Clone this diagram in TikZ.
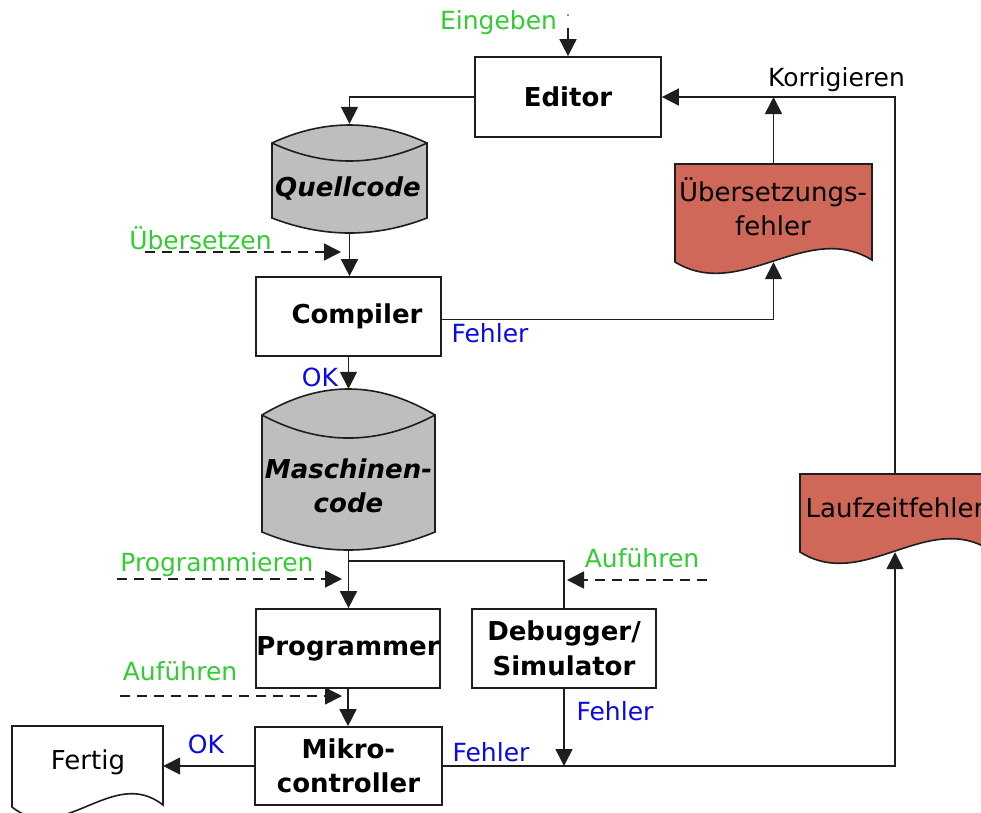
\documentclass[tikz,border=0pt]{standalone}
\usepackage{fontspec}
\setmainfont{DejaVu Sans}
\usetikzlibrary{arrows.meta,calc}

\definecolor{lblgreen}{RGB}{51,204,51}
\definecolor{lblblue}{RGB}{10,10,230}
\definecolor{errred}{RGB}{208,104,90}
\definecolor{storegray}{RGB}{190,190,190}
\definecolor{edge}{RGB}{30,30,30}

\tikzset{
  box/.style={draw=edge, line width=1.7pt, fill=white, inner sep=0pt,
    font=\fontsize{26}{34.5}\selectfont\bfseries, align=center},
  shapeframe/.style={inner sep=0pt, draw=none},
  storetext/.style={inner sep=0pt, font=\fontsize{26}{34.5}\selectfont\bfseries\itshape, align=center},
  doctext/.style={inner sep=0pt, font=\fontsize{26}{34.5}\selectfont, align=center},
  actlabel/.style={inner sep=0pt, font=\fontsize{25}{30}\selectfont, text=lblgreen},
  reslabel/.style={inner sep=0pt, font=\fontsize{25}{30}\selectfont, text=lblblue},
  notelabel/.style={inner sep=0pt, font=\fontsize{25}{30}\selectfont, text=black},
  plain/.style={draw=edge, line width=1.6pt},
  flow/.style={plain, -{Triangle[length=17pt,width=17pt]}},
  cue/.style={flow, dash pattern=on 10pt off 7pt},
  outline/.style={draw=edge, line width=1.6pt},
}

\begin{document}
\begin{tikzpicture}[x=1pt,y=-1pt]
\useasboundingbox (0,0) rectangle (981,812);
\fill[white] (0,0) rectangle (981,812);
\clip (0,0) rectangle (981,812);

% --- process boxes ---
\node[box, minimum width=186pt, minimum height=80pt] (ed) at (568,97) {Editor};
\node[box, minimum width=185pt, minimum height=79pt] (cp) at (348.5,316.5) {\hspace*{17pt}Compiler};
\node[box, minimum width=184pt, minimum height=79pt] (pg) at (348,648.5) {Programmer};
\node[box, minimum width=184pt, minimum height=79pt] (db) at (564,648.5) {Debugger/\\Simulator};
\node[box, minimum width=187pt, minimum height=78pt] (mk) at (348.5,766) {Mikro-\\controller};

% --- stored data (cylinders) ---
\path[outline, fill=storegray] (272,143) .. controls (323.7,119) and (375.3,119) .. (427,143)
  -- (427,218) .. controls (375.3,238) and (323.7,238) .. (272,218) -- cycle;
\draw[outline] (272,143) .. controls (323.7,167) and (375.3,167) .. (427,143);
\node[shapeframe, minimum width=155pt, minimum height=109pt] (qc) at (349.5,178.5) {};
\node[storetext] (qct) at (348,189) {Quellcode};

\path[outline, fill=storegray] (262,415) .. controls (319.7,380.3) and (377.3,380.3) .. (435,415)
  -- (435,532) .. controls (377.3,556) and (319.7,556) .. (262,532) -- cycle;
\draw[outline] (262,415) .. controls (319.7,445.7) and (377.3,445.7) .. (435,415);
\node[shapeframe, minimum width=173pt, minimum height=161pt] (mc) at (348.5,469.5) {};
\node[storetext] (mct) at (348.5,486) {Maschinen-\\code};

% --- documents ---
\path[outline, fill=errred] (675,164) -- (872,164) -- (872,260)
  .. controls (806.3,220) and (740.7,302) .. (675,262) -- cycle;
\node[shapeframe, minimum width=197pt, minimum height=98pt] (uf) at (773.5,213) {};
\node[doctext] (uft) at (773,207) {Übersetzungs-\\fehler};

\path[outline, fill=errred] (800,474) -- (990,474) -- (990,550)
  .. controls (926.7,510) and (863.3,592) .. (800,552) -- cycle;
\node[shapeframe, minimum width=190pt, minimum height=78pt] (lf) at (895,513) {};
\node[doctext] (lft) at (895,508) {Laufzeitfehler};

\path[outline, fill=white] (12,726) -- (163,726) -- (163,805)
  .. controls (112.7,765) and (62.3,847) .. (12,807) -- cycle;
\node[shapeframe, minimum width=151pt, minimum height=81pt] (ft) at (87.5,766.5) {};
\node[doctext] (ftt) at (88,762) {Fertig};

% --- main flow ---
\coordinate (ein) at (568,28);
\fill[edge] (568,15) circle (0.9);
\draw[flow] (ein) -- (ed.north);
\draw[flow] (ed.west) -| (qc.north);
\draw[flow] (qc.south) -- (qc.south |- cp.north);
\draw[flow] (cp.south) -- (cp.south |- mc.north);
\draw[flow] (mc.south) -- (mc.south |- pg.north);
\coordinate (br) at (348.5,561);
\draw[plain] (br) -| (db.north);
\draw[flow] (pg.south) -- (pg.south |- mk.north);
\draw[flow] (mk.west) -- (mk.west -| ft.east);
\draw[flow] (mk.east) -| (lf.south);
\draw[flow] (db.south) -- (db.south |- mk.east);
\draw[flow] ([yshift=-3pt]cp.east) -| (uf.south);
\draw[flow] (lf.north) |- (ed.east);
\draw[flow] (uf.north) -- (uf.north |- ed.east);

% --- dashed action cues ---
\coordinate (c1s) at (145,252); \coordinate (c1e) at (341,252);
\coordinate (c2s) at (117,579); \coordinate (c2e) at (342,579);
\coordinate (c3s) at (120,696); \coordinate (c3e) at (342,696);
\coordinate (c4s) at (707,580); \coordinate (c4e) at (567,580);
\draw[cue] (c1s) -- (c1e);
\draw[cue] (c2s) -- (c2e);
\draw[cue] (c3s) -- (c3e);
\draw[cue] (c4s) -- (c4e);

% --- labels ---
\node[actlabel] (l1) at (498.5,23) {Eingeben};
\node[notelabel] (l2) at (836.5,80) {Korrigieren};
\node[actlabel] (l3) at (200.5,238) {Übersetzen};
\node[reslabel] (l4) at (490,333) {Fehler};
\node[reslabel] (l5) at (320,377) {OK};
\node[actlabel] (l6) at (217,565) {Programmieren};
\node[actlabel] (l7) at (642,558) {Auführen};
\node[actlabel] (l8) at (180,671) {Auführen};
\node[reslabel] (l9) at (615,711) {Fehler};
\node[reslabel] (l10) at (491,752) {Fehler};
\node[reslabel] (l11) at (206,744) {OK};
\end{tikzpicture}
\end{document}
